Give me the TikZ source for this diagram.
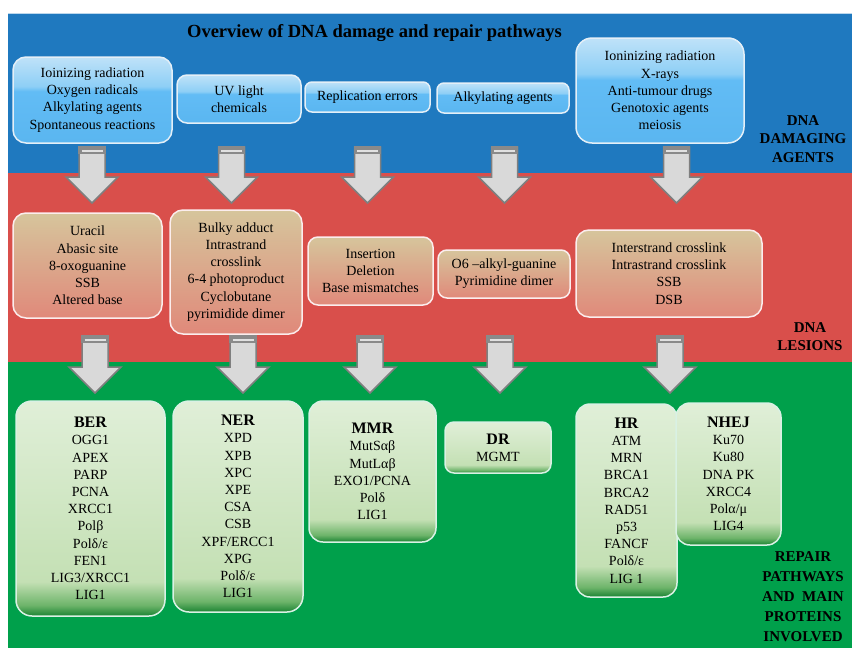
\documentclass[tikz,border=0pt]{standalone}
\usepackage{fontspec}
\setmainfont{Liberation Serif}
\definecolor{bandblue}{HTML}{1F79BF}
\definecolor{bandred}{HTML}{D94F4B}
\definecolor{bandgreen}{HTML}{00A04B}
\definecolor{btop}{HTML}{BFE2F8}
\definecolor{bmid}{HTML}{8ECFF6}
\definecolor{bbase}{HTML}{62BCF5}
\definecolor{bbot}{HTML}{5AB6F0}
\definecolor{rtop}{HTML}{D6C59C}
\definecolor{rbot}{HTML}{E0897A}
\definecolor{glight}{HTML}{E0EFD8}
\definecolor{gmid}{HTML}{C4E0B4}
\definecolor{gmid2}{HTML}{6DB46A}
\definecolor{gdark}{HTML}{1A8332}
\definecolor{arrfill}{HTML}{D9D9D9}
\definecolor{arrline}{HTML}{7F7F7F}
\definecolor{arrcap}{HTML}{8A8A8A}
\pgfdeclareverticalshading{blueshade}{100bp}{color(0bp)=(bbot); color(25bp)=(bbot); color(55bp)=(bbase); color(58bp)=(bmid); color(75bp)=(btop); color(100bp)=(btop)}
\pgfdeclareverticalshading{greenshade}{100bp}{color(0bp)=(gdark); color(25bp)=(gdark); color(27.5bp)=(gmid2); color(33bp)=(gmid); color(75bp)=(glight); color(100bp)=(glight)}
\tikzset{
  basebox/.style={rounded corners=13pt, line width=1.5pt, align=center, inner sep=0pt,
    font=\fontsize{14}{17.2}\selectfont},
  bluebox/.style={basebox, draw=white!88!bandblue, shade, shading=blueshade},
  redbox/.style={basebox, draw=white!90!bandred, shade, top color=rtop, bottom color=rbot},
  greenbox/.style={basebox, draw=white!85!bandgreen, shade, shading=greenshade},
  sidelabel/.style={align=center, inner sep=0pt, font=\bfseries\fontsize{15}{18.5}\selectfont},
  arrowbody/.style={fill=arrfill, draw=arrline, line width=1.5pt, line join=miter},
  arrowtop/.style={fill=arrcap},
  arrowlight/.style={draw=arrfill!80!white, line width=1.2pt},
}
\newcommand\blkarrow[4]{%
  \draw[arrowbody] ({#1-13},#2) -- ({#1+13},#2) -- ({#1+13},#3) -- ({#1+26},#3) -- (#1,#4) -- ({#1-26},#3) -- ({#1-13},#3) -- cycle;
  \fill[arrowtop] ({#1-13.75},{#2-0.75}) rectangle ({#1+13.75},{#2+7});
  \draw[arrowlight] ({#1-10.5},{#2+4}) -- ({#1+10.5},{#2+4});
}
\begin{document}
\begin{tikzpicture}[x=1pt,y=-1pt]
\useasboundingbox (0,0) rectangle (852,648);
\fill[white] (0,0) rectangle (852,648);
% bands
\fill[bandblue] (8,13) rectangle (852,173);
\draw[white!70!bandblue, line width=1pt] (8,13.5) -- (852,13.5);
\fill[bandred] (8,173) rectangle (852,362);
\fill[bandgreen] (8,362) rectangle (852,648);
% title
\node[font=\bfseries\fontsize{18.5}{22}\selectfont, inner sep=0pt, anchor=base] (title) at (374.5,37.5) {Overview of DNA damage and repair pathways};
% arrows (drawn before boxes)
\blkarrow{92}{147}{177}{203}
\blkarrow{231.5}{147}{177}{203}
\blkarrow{367.5}{147}{177}{203}
\blkarrow{504.5}{147}{177}{203}
\blkarrow{676.5}{147}{177}{203}
\blkarrow{95}{336}{367}{393}
\blkarrow{243}{336}{367}{393}
\blkarrow{370}{336}{367}{393}
\blkarrow{500}{336}{367}{393}
\blkarrow{670}{336}{367}{393}
% damaging agents
\node[bluebox, minimum width=159pt, minimum height=86pt] (a1) at (92.5,100) {Ioinizing radiation\\Oxygen radicals\\Alkylating agents\\Spontaneous reactions};
\node[bluebox, rounded corners=10pt, minimum width=124pt, minimum height=48pt] (a2) at (239,99) {UV light\\chemicals};
\node[bluebox, rounded corners=7pt, minimum width=125pt, minimum height=30pt] (a3) at (367.5,97) {Replication errors};
\node[bluebox, rounded corners=7pt, minimum width=132pt, minimum height=30pt] (a4) at (503,98) {Alkylating agents};
\node[bluebox, rounded corners=16pt, minimum width=168pt, minimum height=105pt] (a5) at (660,90.5) {Ioninizing radiation\\X-rays\\Anti-tumour drugs\\Genotoxic agents\\meiosis};
\node[sidelabel] (lab1) at (803,139) {DNA\\DAMAGING\\AGENTS};
% lesions
\node[redbox, minimum width=149pt, minimum height=105pt] (l1) at (87.5,265.5) {Uracil\\Abasic site\\8-oxoguanine\\SSB\\Altered base};
\node[redbox, minimum width=132pt, minimum height=124pt] (l2) at (236,272) {Bulky adduct\\Intrastrand\\crosslink\\6-4 photoproduct\\Cyclobutane\\pyrimidide dimer};
\node[redbox, rounded corners=10pt, minimum width=125pt, minimum height=68pt] (l3) at (370.5,271) {Insertion\\Deletion\\Base mismatches};
\node[redbox, rounded corners=9pt, minimum width=132pt, minimum height=48pt] (l4) at (504,274) {O6 –alkyl-guanine\\Pyrimidine dimer};
\node[redbox, minimum width=186pt, minimum height=87pt] (l5) at (669,273.5) {Interstrand crosslink\\Intrastrand crosslink\\SSB\\DSB};
\node[sidelabel, font=\bfseries\fontsize{15}{18}\selectfont] (lab2) at (810,337) {DNA\\LESIONS};
% repair pathways
\newcommand\hd[1]{{\bfseries\fontsize{16}{17.2}\selectfont #1}}
\node[greenbox, rounded corners=16pt, minimum width=149pt, minimum height=215pt] (p1) at (90.5,508.5) {\hd{BER}\\OGG1\\APEX\\PARP\\PCNA\\XRCC1\\Polβ\\Polδ/ε\\FEN1\\LIG3/XRCC1\\LIG1};
\node[greenbox, rounded corners=16pt, minimum width=130pt, minimum height=211pt] (p2) at (238,506.5) {\hd{NER}\\XPD\\XPB\\XPC\\XPE\\CSA\\CSB\\XPF/ERCC1\\XPG\\Polδ/ε\\LIG1};
\node[greenbox, rounded corners=14pt, minimum width=127pt, minimum height=141pt] (p3) at (372.5,471.5) {\hd{MMR}\\MutSαβ\\MutLαβ\\EXO1/PCNA\\Polδ\\LIG1};
\node[greenbox, rounded corners=9pt, minimum width=106pt, minimum height=51pt] (p4) at (498,447.5) {\hd{DR}\\MGMT};
\node[greenbox, rounded corners=14pt, minimum width=101pt, minimum height=193pt] (p5) at (626.5,500.5) {\hd{HR}\\ATM\\MRN\\BRCA1\\BRCA2\\RAD51\\p53\\FANCF\\Polδ/ε\\LIG 1};
\node[greenbox, rounded corners=14pt, minimum width=105pt, minimum height=142pt] (p6) at (728.5,474) {\hd{NHEJ}\\Ku70\\Ku80\\DNA PK\\XRCC4\\Polα/μ\\LIG4};
\node[sidelabel, font=\bfseries\fontsize{15}{20}\selectfont] (lab3) at (803,597) {REPAIR\\PATHWAYS\\AND\ \ MAIN\\PROTEINS\\INVOLVED};
\end{tikzpicture}
\end{document}
